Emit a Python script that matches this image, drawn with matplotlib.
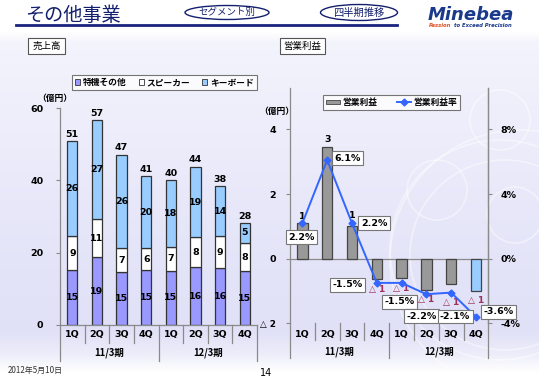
import numpy as np
import matplotlib
matplotlib.use("Agg")
import matplotlib.pyplot as plt
from matplotlib.patches import Patch, Ellipse, Circle
from matplotlib.lines import Line2D
import matplotlib.transforms as mtransforms

plt.rcParams['font.family'] = ['Noto Sans CJK JP', 'DejaVu Sans']

# ---------------- data ----------------
quarters = ["1Q", "2Q", "3Q", "4Q", "1Q", "2Q", "3Q", "4Q"]
periods = ["11/3期", "12/3期"]
sales_tokki = [15.1, 18.7, 14.6, 15.1, 15.0, 15.9, 15.8, 14.8]
sales_speaker = [9.4, 10.6, 6.6, 6.2, 6.6, 8.4, 8.7, 8.0]
sales_keyboard = [26.3, 27.3, 25.9, 19.8, 18.4, 19.4, 13.8, 5.4]
op_income = [1.1, 3.45, 1.0, -0.64, -0.59, -0.96, -0.79, -1.01]
op_margin = [2.2, 6.1, 2.2, -1.5, -1.5, -2.2, -2.1, -3.6]
left_legend = ["特機その他", "スピーカー", "キーボード"]
right_legend = ["営業利益", "営業利益率"]

W, H = 539, 380
fig = plt.figure(figsize=(W / 100, H / 100), dpi=100)

def fx(x):
    return x / W

def fy(y):
    return 1 - y / H

# ---------------- background ----------------
bg = fig.add_axes([0, 0, 1, 1], zorder=-10)
bg.set_xlim(0, W)
bg.set_ylim(H, 0)
bg.axis('off')
ys = np.array([0, 32, 42, 200, 330, 352, 372, 380])
cs = np.array([
    [1.00, 1.00, 1.00],
    [1.00, 1.00, 1.00],
    [0.955, 0.955, 0.99],
    [0.91, 0.91, 0.98],
    [0.88, 0.88, 0.97],
    [0.925, 0.925, 0.98],
    [1.00, 1.00, 1.00],
    [1.00, 1.00, 1.00],
])
yy = np.arange(H)
grad = np.stack([np.interp(yy, ys, cs[:, k]) for k in range(3)], axis=-1)
img = np.repeat(grad[:, None, :], 4, axis=1)
bg.imshow(img, extent=[0, W, H, 0], aspect='auto', interpolation='bilinear')
for (cx, cy, r) in [(437, 190, 30), (500, 120, 30), (515, 215, 28), (500, 250, 110),
                    (505, 255, 95), (520, 260, 130)]:
    bg.add_patch(Circle((cx, cy), r, fill=False, ec='white', lw=1.2, alpha=0.45))

navy = '#14206E'
num = 'DejaVu Sans'
# ---------------- header ----------------
fig.text(fx(25), fy(15.5), "その他事業", fontsize=13.8, color=navy, ha='left', va='center')
bg.plot([16, 397], [24.5, 24.5], color='#1A237E', lw=2.0)
bg.add_patch(Ellipse((227, 12.5), 84, 14, fill=False, ec=navy, lw=1.0))
fig.text(fx(227), fy(12.5), "セグメント別", fontsize=6.8, color=navy, ha='center', va='center')
bg.add_patch(Ellipse((359, 12.5), 77, 16, fill=False, ec=navy, lw=1.0))
fig.text(fx(359), fy(12.5), "四半期推移", fontsize=7.4, color=navy, ha='center', va='center')
fig.text(fx(471), fy(14.5), "Minebea", fontsize=13, color='#1B3A8C', ha='center', va='center',
         fontweight='heavy', style='italic', family=num)
fig.text(fx(429), fy(25.7), "Passion", fontsize=3.8, color='#E05020', ha='left', va='center',
         fontweight='bold', style='italic', family=num)
fig.text(fx(454), fy(25.7), "to Exceed Precision", fontsize=3.8, color='#1B3A8C', ha='left',
         va='center', fontweight='bold', style='italic', family=num)

box = dict(boxstyle='square,pad=0.4', fc='white', ec='#555555', lw=0.8)
fig.text(fx(46.5), fy(46), "売上高", fontsize=6.8, ha='center', va='center', bbox=box)
fig.text(fx(302.5), fy(46), "営業利益", fontsize=6.8, ha='center', va='center', bbox=box)

# footer
fig.text(fx(8), fy(370), "2012年5月10日", fontsize=5.8, style='italic', ha='left', va='center',
         color='#333333')
fig.text(fx(266), fy(373), "14", fontsize=7, ha='center', va='center', family=num)

tickfont = dict(fontsize=6.8, fontweight='bold', family=num)
cjkfont = dict(fontsize=6.8, fontweight='bold')
sepcol = '#8A8A8A'

def category_labels(ax, y_cat, y_grp, y_axis, y_minor, y_major):
    tr = mtransforms.blended_transform_factory(ax.transData, fig.transFigure)
    n = len(quarters)
    for i, q in enumerate(quarters):
        ax.text(i, fy(y_cat), q, transform=tr, ha='center', va='center', **tickfont)
    for g, lab in enumerate(periods):
        ax.text(g * 4 + 1.5, fy(y_grp), lab, transform=tr, ha='center', va='center', **cjkfont)
    for k in range(n + 1):
        xb = k - 0.5
        y2 = y_major if k % 4 == 0 else y_minor
        ax.plot([xb, xb], [fy(y_axis), fy(y2)], transform=tr, color=sepcol, lw=0.9,
                clip_on=False)

# ---------------- left chart ----------------
ax1 = fig.add_axes([fx(60), fy(325), fx(257) - fx(60), fy(108) - fy(325)])
ax1.patch.set_alpha(0)
x = np.arange(len(quarters))
bw = 0.42
t = np.array(sales_tokki)
s = np.array(sales_speaker)
k = np.array(sales_keyboard)
ec = '#333333'
ax1.bar(x, t, bw, color='#9999FF', edgecolor=ec, lw=0.9)
ax1.bar(x, s, bw, bottom=t, color='white', edgecolor=ec, lw=0.9)
ax1.bar(x, k, bw, bottom=t + s, color='#99CCFF', edgecolor=ec, lw=0.9)
for i in range(len(x)):
    ax1.text(x[i], t[i] / 2, f"{t[i]:.0f}", ha='center', va='center', **tickfont)
    ax1.text(x[i], t[i] + s[i] / 2, f"{s[i]:.0f}", ha='center', va='center', **tickfont)
    ax1.text(x[i], t[i] + s[i] + k[i] / 2, f"{k[i]:.0f}", ha='center', va='center', **tickfont)
    tot = t[i] + s[i] + k[i]
    ax1.annotate(f"{tot:.0f}", (x[i], tot), xytext=(0, 7), textcoords='offset pixels',
                 ha='center', va='center', **tickfont)
ax1.set_xlim(-0.5, 7.5)
ax1.set_ylim(0, 60)
ax1.set_yticks([0, 20, 40, 60])
ax1.set_yticklabels(["0", "20", "40", "60"], **tickfont)
ax1.set_xticks([])
for sp in ['top', 'right']:
    ax1.spines[sp].set_visible(False)
for sp in ['left', 'bottom']:
    ax1.spines[sp].set_color(sepcol)
    ax1.spines[sp].set_linewidth(0.9)
ax1.tick_params(axis='y', length=3, color=sepcol, pad=9)
category_labels(ax1, 335, 353, 325, 343, 361)
fig.text(fx(55), fy(98), "（億円）", fontsize=6.3, fontweight='bold', ha='center', va='center')
lh = [Patch(facecolor=c, edgecolor='#333333', lw=0.6) for c in ['#9999FF', 'white', '#99CCFF']]
leg1 = fig.legend(lh, left_legend, loc='center', bbox_to_anchor=(fx(164.5), fy(82.5)),
                  ncol=3, frameon=True, fancybox=False, edgecolor='#555555',
                  handlelength=0.55, handleheight=0.55, handletextpad=0.3, columnspacing=1.4,
                  borderpad=0.35, prop=dict(size=6.3, weight='bold'))
leg1.get_frame().set_linewidth(0.8)
leg1.get_frame().set_facecolor('white')

# ---------------- right chart ----------------
ax2 = fig.add_axes([fx(290), fy(323.3), fx(488.3) - fx(290), fy(88.3) - fy(323.3)])
ax2.patch.set_alpha(0)
bar_colors = ['#999999'] * 7 + ['#99CCFF']
ax2.bar(x, op_income, bw, color=bar_colors, edgecolor='#444444', lw=0.9, zorder=2)
ax2.axhline(0, color=sepcol, lw=0.9, zorder=1)
ax2.set_xlim(-0.5, 7.5)
ax2.set_ylim(-2, 5.27)
ax2.set_yticks([-2, 0, 2, 4])
ax2.set_yticklabels(["△ 2", "0", "2", "4"], **tickfont)
ax2.set_xticks([])
for sp in ['top', 'bottom']:
    ax2.spines[sp].set_visible(False)
for sp in ['left', 'right']:
    ax2.spines[sp].set_color(sepcol)
    ax2.spines[sp].set_linewidth(0.9)
ax2.tick_params(axis='y', length=3, color=sepcol, pad=7)
ax2.get_yticklabels()[0].set_fontsize(6.3)
bar_lab_off = [7, 8, 11, -10, -11, -10, -18, -9]
neg_col = '#A0305A'
for i, v in enumerate(op_income):
    if v >= 0:
        ax2.annotate(f"{v:.0f}", (x[i], v), xytext=(0, bar_lab_off[i]),
                     textcoords='offset pixels', ha='center', va='center', **tickfont)
    else:
        ax2.annotate(f"△ {-v:.0f}", (x[i], v), xytext=(0, bar_lab_off[i]),
                     textcoords='offset pixels', ha='center', va='center', color=neg_col,
                     fontsize=6.5, fontweight='bold', family=num)

ax3 = ax2.twinx()
ax3.set_ylim(-4, 10.54)
ax3.set_yticks([-4, 0, 4, 8])
ax3.set_yticklabels(["-4%", "0%", "4%", "8%"], **tickfont)
for sp in ['top', 'bottom', 'left']:
    ax3.spines[sp].set_visible(False)
ax3.spines['right'].set_color(sepcol)
ax3.spines['right'].set_linewidth(0.9)
ax3.tick_params(axis='y', length=3, color=sepcol, pad=6)
line_col = '#3366FF'
ax3.plot(x, op_margin, color=line_col, lw=1.4, marker='D', ms=3.5, zorder=3)
m_off = [(-1, -14), (20, 2), (22, 0), (-29, -2), (-2, -19), (-5, -22), (4, -24), (23, 5)]
mbox = dict(boxstyle='square,pad=0.25', fc='white', ec='#777777', lw=0.8)
for i, v in enumerate(op_margin):
    ax3.annotate(f"{v:.1f}%", (x[i], v), xytext=m_off[i], textcoords='offset pixels',
                 ha='center', va='center', bbox=mbox, zorder=5, **tickfont)

category_labels(ax2, 335, 352, 323.3, 340, 358)
fig.text(fx(277), fy(111), "（億円）", fontsize=6.3, fontweight='bold', ha='center', va='center')
rh = [Patch(facecolor='#999999', edgecolor='#444444', lw=0.6),
      Line2D([0], [0], color=line_col, lw=1.4, marker='D', ms=3.5)]
leg2 = fig.legend(rh, right_legend, loc='center', bbox_to_anchor=(fx(391.5), fy(102.5)),
                  ncol=2, frameon=True, fancybox=False, edgecolor='#555555',
                  handlelength=1.6, handleheight=0.4, handletextpad=0.3, columnspacing=2.2,
                  borderpad=0.3, borderaxespad=0, prop=dict(size=6.3, weight='bold'))
leg2.get_frame().set_linewidth(0.8)
leg2.get_frame().set_facecolor('white')

fig.savefig("out.png", dpi=100)
